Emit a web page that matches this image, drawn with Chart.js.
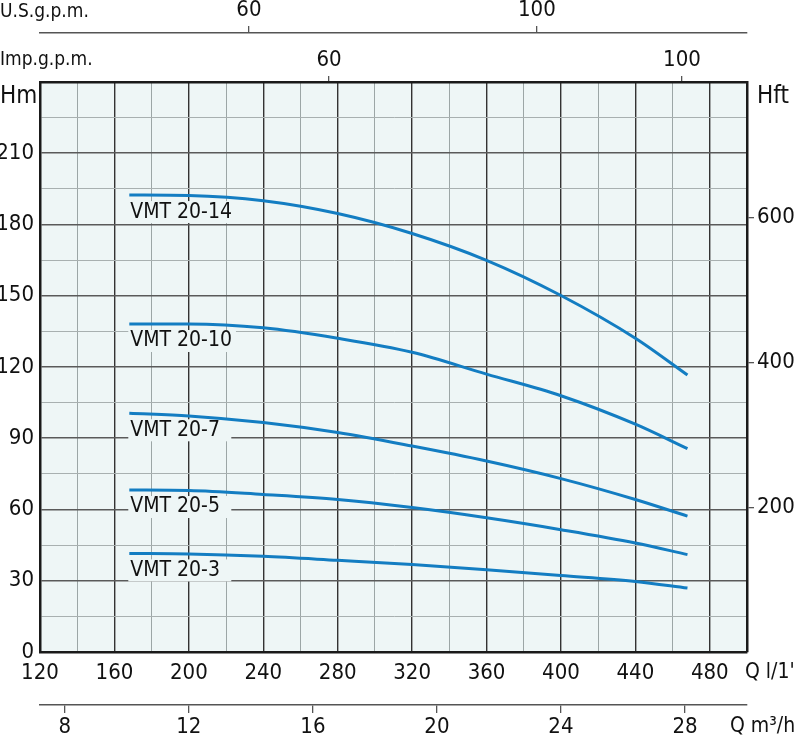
<!DOCTYPE html>
<html>
<head>
<meta charset="utf-8">
<script src="https://cdn.jsdelivr.net/npm/chart.js@4.4.1/dist/chart.umd.min.js"></script>
<style>
  html, body { margin: 0; padding: 0; background: #fff; }
  canvas { display: block; }
</style>
</head>
<body>
<canvas id="curves" width="800" height="735"></canvas>
<script>
const FONT = "'Liberation Sans Narrow', 'DejaVu Sans Condensed', 'DejaVu Sans', sans-serif";
const PAPER = '#eef6f6';

// flow points along each curve, l/min
const flow = [168, 200, 240, 280, 320, 360, 400, 440, 468];

// head in metres for each pump model
const head14 = [192.4, 192.2, 190.0, 184.6, 176.2, 164.9, 150.1, 132.1, 116.6];
const head10 = [138.1, 138.1, 136.5, 132.1, 126.2, 117.0, 107.9, 95.9, 85.6];
const head7  = [100.5, 99.4, 96.6, 92.4, 86.7, 80.4, 73.0, 64.2, 57.2];
const head5  = [68.2, 68.0, 66.3, 64.2, 60.8, 56.5, 51.5, 45.9, 41.0];
const head3  = [41.5, 41.3, 40.3, 38.6, 36.8, 34.6, 32.2, 29.7, 26.9];

const models = ['VMT 20-14', 'VMT 20-10', 'VMT 20-7', 'VMT 20-5', 'VMT 20-3'];
const heads = [head14, head10, head7, head5, head3];

// tick labels
const flowTicks = [120, 160, 200, 240, 280, 320, 360, 400, 440, 480];
const headTicks = [0, 30, 60, 90, 120, 150, 180, 210];
const feetTicks = [200, 400, 600];
const m3hTicks = [8, 12, 16, 20, 24, 28];
const impTicks = [60, 100];
const usTicks = [60, 100];

const M_TO_FT = 3.28084;

const datasets = models.map((name, i) => ({
  label: name,
  data: flow.map((q, j) => ({ x: q, y: heads[i][j] })),
  borderColor: '#137dc2',
  borderWidth: 3,
  pointRadius: 0,
  showLine: true,
  fill: false,
  cubicInterpolationMode: 'monotone',
  xAxisID: 'x',
  yAxisID: 'y'
}));

const fixTicks = list => scale => { scale.ticks = list.map(v => ({ value: v })); };

const paper = {
  id: 'paper',
  beforeDraw(chart) {
    const { ctx, chartArea: a } = chart;
    ctx.save();
    ctx.fillStyle = PAPER;
    ctx.fillRect(a.left, a.top, a.right - a.left, a.bottom - a.top);
    ctx.restore();
  },
  beforeDatasetsDraw(chart) {
    // model names sit just under the start of each curve
    const { ctx, scales: { x, y } } = chart;
    ctx.save();
    ctx.font = '21px ' + FONT;
    ctx.textBaseline = 'middle';
    chart.data.datasets.forEach(ds => {
      const px = x.getPixelForValue(ds.data[0].x);
      const py = y.getPixelForValue(ds.data[0].y) + 17;
      const w = Math.max(103, ctx.measureText(ds.label).width + 6);
      ctx.fillStyle = PAPER;
      ctx.fillRect(px - 1, py - 11, w, 22);
      ctx.fillStyle = '#111';
      ctx.fillText(ds.label, px + 1, py);
    });
    ctx.restore();
  },
  afterDraw(chart) {
    const ctx = chart.ctx;
    ctx.save();
    ctx.fillStyle = '#111';
    ctx.textBaseline = 'middle';
    ctx.font = '19px ' + FONT;
    ctx.fillText('U.S.g.p.m.', 0, 12);
    ctx.fillText('Imp.g.p.m.', 0, 60);
    ctx.font = '21px ' + FONT;
    ctx.fillText("Q l/1'", 745, 673);
    ctx.fillText('Q m\u00b3/h', 730, 727);
    ctx.font = '24px ' + FONT;
    ctx.fillText('Hm', 0, 97);
    ctx.fillText('Hft', 757, 97);
    ctx.restore();
  }
};

const tickFont = { family: FONT, size: 22 };

new Chart(document.getElementById('curves'), {
  type: 'scatter',
  data: { datasets },
  options: {
    responsive: false,
    animation: false,
    layout: { padding: 0 },
    plugins: {
      legend: { display: false },
      tooltip: { enabled: false }
    },
    scales: {
      x: {
        type: 'linear',
        position: 'bottom',
        weight: 0,
        min: 120,
        max: 500,
        afterFit: s => { s.height = 53; },
        ticks: {
          stepSize: 20,
          autoSkip: false,
          maxRotation: 0,
          padding: 8,
          color: '#111',
          font: tickFont,
          callback: v => flowTicks.includes(v) ? v : ''
        },
        grid: {
          drawTicks: false,
          color: c => c.tick && c.tick.value % 40 === 0 ? '#333' : '#9ca6a6',
          lineWidth: c => c.tick && c.tick.value % 40 === 0 ? 1.4 : 1
        },
        border: { color: '#1a1a1a', width: 2.5 }
      },
      xm3: {
        type: 'linear',
        position: 'bottom',
        weight: 1,
        min: 7.2,
        max: 30,
        afterFit: s => { s.height = 30; },
        afterBuildTicks: fixTicks(m3hTicks),
        ticks: { autoSkip: false, maxRotation: 0, padding: 1, color: '#111', font: tickFont },
        grid: { drawOnChartArea: false, tickLength: 8, color: '#555', lineWidth: 1.3 },
        border: { color: '#555', width: 1.5 }
      },
      xImp: {
        type: 'linear',
        position: 'top',
        weight: 0,
        min: 27.25,
        max: 107.37,
        afterFit: s => { s.height = 49; },
        afterBuildTicks: fixTicks(impTicks),
        ticks: { autoSkip: false, maxRotation: 0, padding: 3, color: '#111', font: tickFont },
        grid: { drawOnChartArea: false, tickLength: 6, color: '#555', lineWidth: 1.3 },
        border: { color: '#1a1a1a', width: 2.5 }
      },
      xUS: {
        type: 'linear',
        position: 'top',
        weight: 1,
        min: 30.97,
        max: 129.2,
        afterFit: s => { s.height = 33; },
        afterBuildTicks: fixTicks(usTicks),
        ticks: { autoSkip: false, maxRotation: 0, padding: 3, color: '#111', font: tickFont },
        grid: { drawOnChartArea: false, tickLength: 7, color: '#555', lineWidth: 1.3 },
        border: { color: '#555', width: 1.5 }
      },
      y: {
        type: 'linear',
        position: 'left',
        min: 0,
        max: 240,
        afterFit: s => { s.width = 40; },
        ticks: {
          stepSize: 15,
          autoSkip: false,
          padding: 6,
          color: '#111',
          font: tickFont,
          callback: v => headTicks.includes(v) ? v : ''
        },
        grid: {
          drawTicks: false,
          color: c => c.tick && c.tick.value % 30 === 0 ? '#5a5a5a' : '#a8b0b0',
          lineWidth: c => c.tick && c.tick.value % 30 === 0 ? 1.6 : 1
        },
        border: { color: '#1a1a1a', width: 2.5 }
      },
      yft: {
        type: 'linear',
        position: 'right',
        min: 0,
        max: 240 * M_TO_FT,
        afterFit: s => { s.width = 53; },
        afterBuildTicks: fixTicks(feetTicks),
        ticks: { autoSkip: false, padding: 3, color: '#111', font: tickFont },
        grid: { drawOnChartArea: false, tickLength: 7, color: '#555', lineWidth: 1.3 },
        border: { color: '#1a1a1a', width: 2.5 }
      }
    }
  },
  plugins: [paper]
});
</script>
</body>
</html>
